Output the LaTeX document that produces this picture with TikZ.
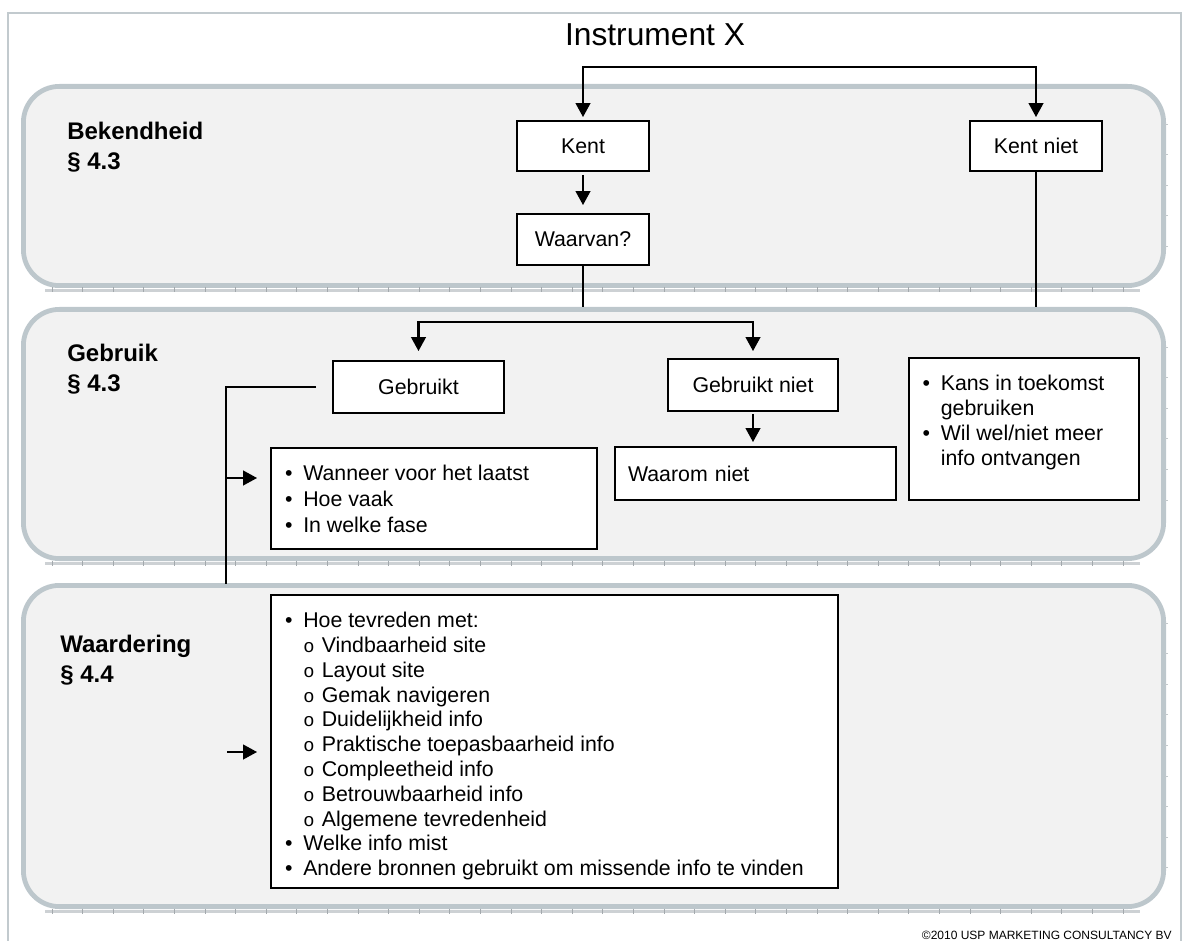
\documentclass[tikz,border=0pt]{standalone}
\usepackage{fontspec}
\setmainfont{Liberation Sans}
\newfontfamily\dgmono{Liberation Mono}
\usetikzlibrary{arrows.meta,calc}
\definecolor{panelfill}{HTML}{F2F2F2}
\definecolor{panelline}{HTML}{BDC7CC}
\definecolor{frameline}{HTML}{C2CACE}
\definecolor{rulerband}{HTML}{CDD1D4}
\definecolor{rulertick}{HTML}{A3A9AD}
\definecolor{sidetick}{HTML}{C3C9CC}
\newcommand\dgbody{\fontsize{16pt}{19pt}\selectfont}
\newcommand\dgbul{\makebox[13.65pt][l]{•}}
\newcommand\dgsub{\hspace*{13.65pt}\makebox[13.9pt][l]{\dgmono\fontsize{14pt}{14pt}\selectfont o}}
\newcommand\dgind{\hspace*{13.65pt}}
\begin{document}
\begin{tikzpicture}[x=0.75pt,y=-0.75pt,
  >={Triangle[length=10.5pt,width=11pt]},
  panel/.style={draw=panelline,line width=3.6pt,fill=panelfill,rounded corners=27pt},
  frame/.style={draw=frameline,line width=1.5pt},
  rulerb/.style={draw=rulerband,line width=2pt},
  rulert/.style={draw=rulertick,line width=0.5pt},
  sidet/.style={draw=sidetick,line width=0.5pt},
  box/.style={draw=black,line width=1.4pt,fill=white,inner sep=0pt,font=\dgbody},
  listtxt/.style={inner sep=0pt,align=left},
  seclabel/.style={inner sep=0pt,align=left,font=\fontsize{18pt}{22.5pt}\selectfont\bfseries},
  conn/.style={line width=1.6pt}]
\useasboundingbox (0,0) rectangle (1185,941);
% outer frame
\draw[frame] (7.5,13) rectangle (1180.5,960);
% panels
\draw[panel] (23.4,86.4) rectangle (1163.6,285.6);
\draw[panel] (23.4,309.4) rectangle (1163.6,558.6);
\draw[panel] (23.4,585.4) rectangle (1163.6,906.6);
% ruler edges of the panels
\foreach \yb/\yt/\n in {290.5/84/4, 563.5/307/5, 911.5/583/8}{
  \draw[rulerb] (45,\yb) -- (1140,\yb);
  \foreach \i in {0,...,35}{\draw[rulert] ({52+30.6*\i},{\yb-3}) -- ++(0,5);}
  \foreach \j in {0,...,\n}{\draw[sidet] (1165,{\yt+40+30.6*\j}) -- ++(3,0);}
}
% title
\node[inner sep=0pt,font=\fontsize{23.8pt}{28pt}\selectfont,anchor=base] (title) at (655,46) {Instrument X};
% section labels
\node[seclabel,anchor=north west] (lbek) at (67,119.6) {\rule{0pt}{15pt}Bekendheid\\ § 4.3};
\node[seclabel,anchor=north west] (lgeb) at (67,341.6) {\rule{0pt}{15pt}Gebruik\\ § 4.3};
\node[seclabel,anchor=north west] (lwaa) at (60,632.6) {\rule{0pt}{15pt}Waardering\\ § 4.4};
% boxes
\node[box,minimum width=99pt,minimum height=37.5pt] (kent) at (583,146) {Kent};
\node[box,minimum width=99pt,minimum height=37.5pt] (kentniet) at (1036,146) {Kent niet};
\node[box,minimum width=99pt,minimum height=38.25pt] (waarvan) at (583,239.5) {Waarvan?};
\node[box,minimum width=128.25pt,minimum height=39pt] (gebruikt) at (418.5,387) {Gebruikt};
\node[box,minimum width=127.5pt,minimum height=39pt] (gebruiktniet) at (753,385) {Gebruikt niet};
\node[box,minimum width=210.75pt,minimum height=39.75pt,text width=191.25pt,align=left] (waarom) at (755.5,473.5) {Waarom niet};
\node[box,minimum width=244.5pt,minimum height=75.75pt] (wanneer) at (434,498.5) {};
\node[listtxt,font=\fontsize{16pt}{19.5pt}\selectfont,anchor=north west] (wanneertxt) at (284.8,460.5)
  {\rule{0pt}{15pt}\dgbul Wanneer voor het laatst\\ \dgbul Hoe vaak\\ \dgbul In welke fase};
\node[box,minimum width=172.5pt,minimum height=106.5pt] (kans) at (1024,429) {};
\node[listtxt,font=\fontsize{16pt}{18.75pt}\selectfont,anchor=north west] (kanstxt) at (922.3,370.5)
  {\rule{0pt}{15pt}\dgbul Kans in toekomst\\ \dgind gebruiken\\ \dgbul Wil wel/niet meer\\ \dgind info ontvangen};
\node[box,minimum width=425.25pt,minimum height=219.75pt] (waard) at (554.5,741.5) {};
\node[listtxt,font=\fontsize{16pt}{18.6pt}\selectfont,anchor=north west] (waardtxt) at (284.8,607.5)
  {\rule{0pt}{15pt}\dgbul Hoe tevreden met:\\
   \dgsub Vindbaarheid site\\
   \dgsub Layout site\\
   \dgsub Gemak navigeren\\
   \dgsub Duidelijkheid info\\
   \dgsub Praktische toepasbaarheid info\\
   \dgsub Compleetheid info\\
   \dgsub Betrouwbaarheid info\\
   \dgsub Algemene tevredenheid\\
   \dgbul Welke info mist\\
   \dgbul Andere bronnen gebruikt om missende info te vinden};
% copyright
\node[inner sep=0pt,font=\fontsize{9pt}{10pt}\selectfont,anchor=base east] (copy) at (1172,939.5) {©2010 USP MARKETING CONSULTANCY BV};
% connectors
\coordinate (topbar) at (800,67);
\draw[conn,<->,shorten <=2.25pt,shorten >=2.25pt] (kent.north) |- (topbar) -| (kentniet.north);
\draw[conn,->,shorten <=2.25pt,shorten >=6pt] (kent.south) -- (waarvan.north);
\coordinate (gtop1) at (583,307);
\coordinate (gtop2) at (1036,307);
\draw[conn] (waarvan.south) -- (gtop1);
\draw[conn] (kentniet.south) -- (gtop2);
\coordinate (gbar) at (585,322);
\draw[conn,<->,shorten <=6.75pt,shorten >=5.25pt] (gebruikt.north) |- (gbar) -| (gebruiktniet.north);
\draw[conn,->,shorten <=1.5pt,shorten >=3pt] (gebruiktniet.south) -- (gebruiktniet.south |- waarom.north);
\coordinate (wtop) at (226,584);
\draw[conn] ([xshift=-12pt]gebruikt.west) -| (wtop);
\coordinate (lj) at (226,478);
\draw[conn,->,shorten >=9.75pt] (lj) -- (lj -| wanneer.west);
\coordinate (wa) at (227,752);
\draw[conn,->,shorten >=9.75pt] (wa) -- (wa -| waard.west);
\end{tikzpicture}
\end{document}
